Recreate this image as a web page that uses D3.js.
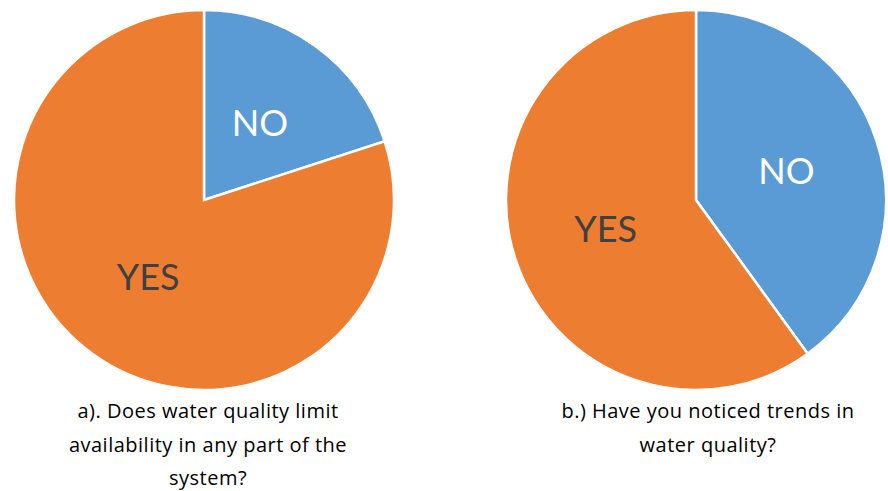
<!DOCTYPE html>
<html>
<head>
<meta charset="utf-8">
<script src="https://cdn.jsdelivr.net/npm/d3@7"></script>
<style>
  html, body { margin: 0; padding: 0; background: #fff; }
  svg { display: block; }
</style>
</head>
<body>
<svg id="chart" width="888" height="491"></svg>
<script>
// Data
const categories = ["NO", "YES"];
const valuesA = [20, 80];
const valuesB = [40, 60];
const captionA = ["a). Does water quality limit", "availability in any part of the", "system?"];
const captionB = ["b.) Have you noticed trends in", "water quality?"];

const colors = d3.scaleOrdinal().domain(categories).range(["#5B9BD5", "#ED7D31"]);
const labelColors = d3.scaleOrdinal().domain(categories).range(["#FFFFFF", "#404040"]);

const svg = d3.select("#chart");
const radius = 190;
const labelFont = "Lato, 'Open Sans', sans-serif";
const captionFont = "'Open Sans', Lato, sans-serif";

const pies = [
  { values: valuesA, cx: 204, cy: 200, caption: captionA, capX: 208 },
  { values: valuesB, cx: 696, cy: 200, caption: captionB, capX: 708 }
];

const pie = d3.pie().sort(null).value(d => d.v);
const arc = d3.arc().innerRadius(0).outerRadius(radius);

pies.forEach(p => {
  const data = categories.map((c, i) => ({ c, v: p.values[i] }));
  const g = svg.append("g").attr("transform", `translate(${p.cx},${p.cy})`);
  const arcs = pie(data);
  g.selectAll("path").data(arcs).join("path")
    .attr("d", arc)
    .attr("fill", d => colors(d.data.c))
    .attr("stroke", "#fff")
    .attr("stroke-width", 2.5)
    .attr("stroke-linejoin", "miter");
  g.selectAll("text").data(arcs).join("text")
    .attr("transform", d => `translate(${arc.centroid(d)})`)
    .attr("text-anchor", "middle")
    .attr("dy", "0.36em")
    .attr("font-family", labelFont)
    .attr("font-size", 36)
    .attr("fill", d => labelColors(d.data.c))
    .text(d => d.data.c);

  svg.append("g").selectAll("text").data(p.caption).join("text")
    .attr("x", p.capX)
    .attr("y", (d, i) => 418 + i * 33.5)
    .attr("text-anchor", "middle")
    .attr("font-family", captionFont)
    .attr("font-size", 20)
    .attr("letter-spacing", 0.5)
    .attr("fill", "#000")
    .text(d => d);
});
</script>
</body>
</html>
